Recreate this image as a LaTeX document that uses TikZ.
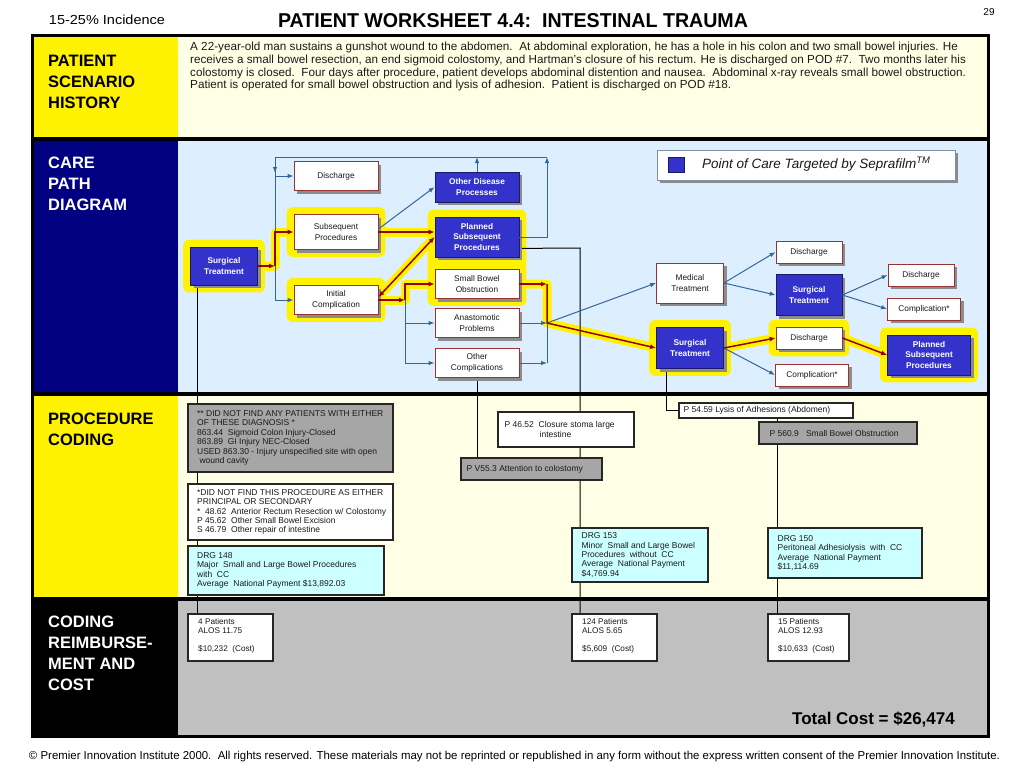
\documentclass[tikz,border=0pt]{standalone}
\usepackage{graphicx}
\usepackage{fontspec}
\setmainfont{Liberation Sans}
\usetikzlibrary{shadows,fit,arrows.meta,calc}
\definecolor{navybg}{HTML}{000080}
\definecolor{lblue}{HTML}{DDEFFF}
\definecolor{cream}{HTML}{FFFFE5}
\definecolor{pblue}{HTML}{3333CC}
\definecolor{navyb}{HTML}{1A1A66}
\definecolor{bred}{HTML}{993333}
\definecolor{rline}{HTML}{990000}
\definecolor{bline}{HTML}{336699}
\definecolor{ggray}{HTML}{A6A6A6}
\definecolor{cyanb}{HTML}{CCFFFF}
\definecolor{costbg}{HTML}{C0C0C0}
\definecolor{shgray}{HTML}{8C8C8C}
\definecolor{txt}{HTML}{1A1A1A}
\definecolor{legb}{HTML}{7F8FA6}
\pgfdeclarelayer{bg}
\pgfdeclarelayer{halo}
\pgfsetlayers{bg,halo,main}
\begin{document}
\begin{tikzpicture}[x=1pt,y=-1pt,
 shad/.style={drop shadow={shadow xshift=3pt,shadow yshift=-3pt,fill=shgray,opacity=1}},
 wbox/.style={draw=bred,line width=0.8pt,fill=white,text=txt,align=center,inner sep=1pt,font=\fontsize{8.3}{10.4}\selectfont,shad},
 bbox/.style={draw=navyb,line width=0.8pt,fill=pblue,text=white,align=center,inner sep=1pt,font=\fontsize{8.3}{10.4}\selectfont\bfseries,shad},
 halo/.style={fill=yellow,draw=none,rounded corners=6pt,inner sep=7pt},
 yel/.style={draw=yellow,line width=9pt,line join=round},
 rl/.style={draw=rline,line width=1.5pt,-{Latex[length=6pt,width=5pt]}},
 bl/.style={draw=bline,line width=1pt,-{Latex[length=6pt,width=4.5pt]}},
 blp/.style={draw=bline,line width=1pt},
 kl/.style={draw=black,line width=1pt},
 lab/.style={font=\fontsize{16.5}{21}\selectfont\bfseries,align=left,inner sep=0pt},
 cbox/.style={draw=black!85,line width=1.1pt,inner sep=0pt},
 ctext/.style={font=\fontsize{8.5}{9.4}\selectfont,align=left,inner sep=0pt,text=txt},
 costtext/.style={font=\fontsize{8.2}{9.3}\selectfont,align=left,inner sep=0pt,text=txt,anchor=north west}
]
\useasboundingbox (0,0) rectangle (1024,768);
\begin{pgfonlayer}{bg}
\fill[white] (0,0) rectangle (1024,768);
\fill[black] (31,34) rectangle (990,738);
\fill[yellow] (34,37) rectangle (178,137);
\fill[cream] (178,37) rectangle (987,137);
\fill[navybg] (34,141) rectangle (178,392);
\fill[lblue] (178,141) rectangle (987,392);
\fill[yellow] (34,396) rectangle (178,597);
\fill[cream] (178,396) rectangle (987,597);
\fill[costbg] (178,601) rectangle (987,735);
\end{pgfonlayer}

% header and footer
\node[inner sep=0pt] (inc) at (107,20) {\resizebox{116pt}{9.5pt}{15-25\% Incidence}};
\node[inner sep=0pt,font=\bfseries] (title) at (513,21) {\resizebox{470pt}{14pt}{PATIENT WORKSHEET 4.4:\ \ INTESTINAL TRAUMA}};
\node[inner sep=0pt,font=\fontsize{10}{12}\selectfont] (pg) at (989,12) {29};
\node[inner sep=0pt] (foot) at (514.5,757) {\resizebox{971pt}{8.3pt}{© Premier Innovation Institute 2000.\ \ All rights reserved. These materials may not be reprinted or republished in any form without the express written consent of the Premier Innovation Institute.}};

% row labels
\node[lab,anchor=west] (l1) at (48,82) {PATIENT\\SCENARIO\\HISTORY};
\node[lab,anchor=west,text=white] (l2) at (48,184) {CARE\\PATH\\DIAGRAM};
\node[lab,anchor=west] (l3) at (48,429.5) {PROCEDURE\\CODING};
\node[lab,anchor=west,text=white] (l4) at (48,653.5) {CODING\\REIMBURSE-\\MENT AND\\COST};

% scenario
\node[anchor=north west,inner sep=0pt,align=left,font=\fontsize{11.7}{12.7}\selectfont,text=txt] (scen) at (190,42) {A 22-year-old man sustains a gunshot wound to the abdomen.\ \ At abdominal exploration, he has a hole in his colon and two small bowel injuries. He\\receives a small bowel resection, an end sigmoid colostomy, and Hartman’s closure of his rectum. He is discharged on POD \#7.\ \ Two months later his\\colostomy is closed.\ \ Four days after procedure, patient develops abdominal distention and nausea.\ \ Abdominal x-ray reveals small bowel obstruction.\\Patient is operated for small bowel obstruction and lysis of adhesion.\ \ Patient is discharged on POD \#18.};

% legend
\node[draw=legb,line width=1pt,fill=white,minimum width=298pt,minimum height=30pt,inner sep=0pt,shad] (leg) at (806,165) {};
\node[draw=navyb,fill=pblue,minimum width=16pt,minimum height=15pt,inner sep=0pt] (legsq) at (676.5,164.5) {};
\node[anchor=west,inner sep=0pt,font=\fontsize{13.5}{16}\selectfont\itshape,text=txt] (legt) at (702,164) {Point of Care Targeted by Seprafilm\textsuperscript{TM}};

% care path nodes
\node[bbox,minimum width=67pt,minimum height=38pt] (st1) at (224,266) {Surgical\\Treatment};
\node[wbox,minimum width=84pt,minimum height=29pt] (dis1) at (336,176) {Discharge};
\node[wbox,minimum width=84pt,minimum height=35pt] (sp) at (336,232) {Subsequent\\Procedures};
\node[wbox,minimum width=84pt,minimum height=29pt] (ic) at (336,300) {Initial\\Complication};
\node[bbox,minimum width=84pt,minimum height=30pt] (odp) at (477,187) {Other Disease\\Processes};
\node[bbox,minimum width=84pt,minimum height=40pt] (psp) at (477,237) {Planned\\Subsequent\\Procedures};
\node[wbox,minimum width=84pt,minimum height=29pt] (sbo) at (477,284) {Small Bowel\\Obstruction};
\node[wbox,minimum width=84pt,minimum height=29pt] (ap) at (477,323) {Anastomotic\\Problems};
\node[wbox,minimum width=84pt,minimum height=29pt] (oc) at (477,363) {Other\\Complications};
\node[wbox,minimum width=67pt,minimum height=40pt] (med) at (690,283) {Medical\\Treatment};
\node[bbox,minimum width=67pt,minimum height=41pt] (st2) at (690,348) {Surgical\\Treatment};
\node[wbox,minimum width=66pt,minimum height=22pt] (disA) at (809,252) {Discharge};
\node[bbox,minimum width=66pt,minimum height=41pt] (stU) at (809,295) {Surgical\\Treatment};
\node[wbox,minimum width=66pt,minimum height=22pt] (disR) at (921,275) {Discharge};
\node[wbox,minimum width=73pt,minimum height=22pt] (compR) at (924,309) {Complication*};
\node[wbox,minimum width=66pt,minimum height=22pt] (disL) at (809,338) {Discharge};
\node[wbox,minimum width=73pt,minimum height=22pt] (compL) at (812,375) {Complication*};
\node[bbox,minimum width=83pt,minimum height=40pt] (pspR) at (929,355) {Planned\\Subsequent\\Procedures};

% coding nodes
\node[cbox,fill=ggray,minimum width=205pt,minimum height=68pt] (g1) at (290.5,438) {};
\node[ctext,anchor=west] (g1t) at ([xshift=9.5pt]g1.west) {** DID NOT FIND ANY PATIENTS WITH EITHER\\OF THESE DIAGNOSIS *\\863.44\ \ Sigmoid Colon Injury-Closed\\863.89\ \ GI Injury NEC-Closed\\USED 863.30 - Injury unspecified site with open\\\ wound cavity};
\node[cbox,fill=white,minimum width=205pt,minimum height=56pt] (w2) at (290.5,512) {};
\node[ctext,anchor=west] (w2t) at ([xshift=9.5pt]w2.west) {*DID NOT FIND THIS PROCEDURE AS EITHER\\PRINCIPAL OR SECONDARY\\*\ \ 48.62\ \ Anterior Rectum Resection w/ Colostomy\\P 45.62\ \ Other Small Bowel Excision\\S 46.79\ \ Other repair of intestine};
\node[cbox,fill=cyanb,minimum width=196pt,minimum height=49pt] (d148) at (286,570.5) {};
\node[ctext,anchor=west] (d148t) at ([xshift=9.5pt]d148.west) {DRG 148\\Major\ \ Small and Large Bowel Procedures\\with\ \ CC\\Average\ \ National Payment \$13,892.03};
\node[cbox,fill=white,minimum width=136pt,minimum height=35pt] (p4652) at (566,429.5) {};
\node[ctext,anchor=west] (p4652t) at ([xshift=7pt]p4652.west) {P 46.52\ \ Closure stoma large\\\hspace*{35pt}intestine};
\node[cbox,fill=ggray,minimum width=141pt,minimum height=22pt] (pv553) at (531.5,469) {};
\node[ctext,anchor=west] (pv553t) at ([xshift=6pt]pv553.west) {P V55.3 Attention to colostomy};
\node[cbox,fill=white,minimum width=174pt,minimum height=15pt] (p5459) at (766,410.5) {};
\node[ctext,anchor=west] (p5459t) at ([xshift=5pt]p5459.west) {P 54.59 Lysis of Adhesions (Abdomen)};
\node[cbox,fill=ggray,minimum width=158pt,minimum height=22pt] (p5609) at (838,433) {};
\node[ctext,anchor=west] (p5609t) at ([xshift=11pt]p5609.west) {P 560.9\ \ \ Small Bowel Obstruction};
\node[cbox,fill=cyanb,minimum width=136pt,minimum height=54pt] (d153) at (640,555) {};
\node[ctext,anchor=west] (d153t) at ([xshift=10pt]d153.west) {DRG 153\\Minor\ \ Small and Large Bowel\\Procedures\ \ without\ \ CC\\Average\ \ National Payment\\\$4,769.94};
\node[cbox,fill=cyanb,minimum width=154pt,minimum height=50pt] (d150) at (845,553) {};
\node[ctext,anchor=west] (d150t) at ([xshift=10pt]d150.west) {DRG 150\\Peritoneal Adhesiolysis\ \ with\ \ CC\\Average\ \ National Payment\\\$11,114.69};
\node[cbox,fill=white,minimum width=85pt,minimum height=47pt] (c4) at (230.5,637.5) {};
\node[costtext] (c4t) at (198,618.5) {4 Patients\\ALOS 11.75\\[8pt]\$10,232\ \ (Cost)};
\node[cbox,fill=white,minimum width=85pt,minimum height=47pt] (c124) at (614.5,637.5) {};
\node[costtext] (c124t) at (582,618.5) {124 Patients\\ALOS 5.65\\[8pt]\$5,609\ \ (Cost)};
\node[cbox,fill=white,minimum width=81pt,minimum height=47pt] (c15) at (808.5,637.5) {};
\node[costtext] (c15t) at (778,618.5) {15 Patients\\ALOS 12.93\\[8pt]\$10,633\ \ (Cost)};
\node[anchor=east,inner sep=0pt,font=\fontsize{17}{20}\selectfont\bfseries] (total) at (955,719) {Total Cost = \$26,474};

% halos, highlight strokes and thin black lines
\begin{pgfonlayer}{halo}
\node[halo,fit=(st1)] (h1) {};
\node[halo,fit=(sp)] (h2) {};
\node[halo,fit=(ic)] (h3) {};
\node[halo,fit=(psp)(sbo)] (h4) {};
\node[halo,fit=(st2)] (h5) {};
\node[halo,fit=(disL)] (h6) {};
\node[halo,fit=(pspR)] (h7) {};
\draw[yel] (st1.east) -- (275,266) -- (275,232) -- (sp.west);
\draw[yel] (sp.east) -- (sp.east -| psp.west);
\draw[yel] ($(ic.east)+(0,-3)$) -- (psp.west);
\draw[yel] (ic.east) -- (405,300) -- (405,284) -- (sbo.west);
\draw[yel] (sbo.east) -- (547,284) -- (547,323) -- (st2.west);
\draw[yel] (st2.east) -- (disL.west);
\draw[yel] (disL.east) -- (pspR.west);
\draw[kl] (197,0 |- st1.south) -- (197,0 |- c4.north);
\draw[kl] ($(psp.south east)+(0,-9)$) -- (580,248) -- (580,0 |- c124.north);
\draw[kl] (oc.south) -- (oc.south |- pv553.north);
\draw[kl] (666,0 |- st2.south) -- (666,0 |- p5459.west) -- (p5459.west);
\draw[kl] (777,0 |- p5459.south) -- (777,0 |- c15.north);
\end{pgfonlayer}

% blue connectors
\draw[bl] (psp.east) -- (547,237) -- (547,157);
\draw[bl] (odp.north) -- (odp.north |- 0,157);
\draw[blp] (547,157) -- (275,157) -- (275,300);
\draw[bl] (275,157) -- (275,173);
\draw[bl] (275,176) -- (dis1.west);
\draw[bl] (275,300) -- (ic.west);
\draw[bl] ($(sp.east)+(0,-3)$) -- (odp.west);
\draw[blp] (405,284) -- (405,363);
\draw[bl] (405,323) -- (ap.west);
\draw[bl] (405,363) -- (oc.west);
\draw[bl] (ap.east) -- (547,323);
\draw[bl] (oc.east) -- (547,363);
\draw[blp] (547,363) -- (547,323);
\draw[bl] (547,323) -- (med.west);
\draw[bl] (st2.east) -- (compL.west);
\draw[bl] (med.east) -- (disA.west);
\draw[bl] (med.east) -- (stU.west);
\draw[bl] (stU.east) -- (disR.west);
\draw[bl] (stU.east) -- (compR.west);

% red connectors
\draw[rl] (st1.east) -- (275,266);
\draw[rl] (275,266) -- (275,232) -- (sp.west);
\draw[rl] (sp.east) -- (sp.east -| psp.west);
\draw[rl,{Latex[length=6pt,width=5pt]}-{Latex[length=6pt,width=5pt]}] ($(ic.east)+(0,-3)$) -- (psp.west);
\draw[rl] (ic.east) -- (405,300);
\draw[rl] (405,300) -- (405,284) -- (sbo.west);
\draw[rl] (sbo.east) -- (547,284);
\draw[rl] (547,284) -- (547,323) -- (st2.west);
\draw[rl] (st2.east) -- (disL.west);
\draw[rl] (disL.east) -- (pspR.west);
\end{tikzpicture}
\end{document}
